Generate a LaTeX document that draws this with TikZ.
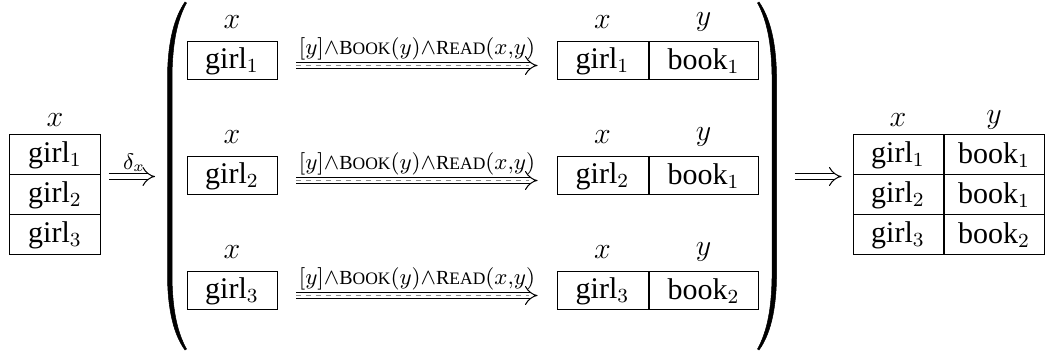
\documentclass[tikz,border=0pt]{standalone}
\usepackage{fontspec}
\setmainfont{Liberation Serif}
\usetikzlibrary{arrows.meta,calc}
\newcommand{\fsc}[2]{{\fontsize{8}{9}\selectfont #1}{\fontsize{7}{8}\selectfont #2}}
\newcommand{\rellbl}{$[y]{\wedge}$\fsc{B}{OOK}$(y){\wedge}$\fsc{R}{EAD}$(x{,}y)$}
\tikzset{
  cell/.style={draw, line width=0.4pt, inner sep=0pt, minimum height=16pt, font=\fontsize{12}{14}\selectfont},
  mcell/.style={cell, minimum height=15.2pt},
  hdr/.style={inner sep=0pt, font=\fontsize{12}{14}\selectfont},
  rlbl/.style={inner sep=0pt, font=\fontsize{9}{10}\selectfont},
  implies/.style={double, double distance=2.3pt, line width=0.4pt, -{Implies}},
  ghost/.style={line width=0.5pt, black!45, dash pattern=on 2pt off 2pt},
  paren/.style={fill=black, draw=black, line width=0.2pt}
}
\begin{document}
\begin{tikzpicture}[x=0.4pt,y=-0.4pt]
\useasboundingbox (0,0) rectangle (1045,351);
% left table
\node[hdr] (Lx) at (55,120) {$x$};
\node[cell, minimum width=36.2pt] (L1) at (55,155) {girl$_1$};
\node[cell, minimum width=36.2pt] (L2) at (55,195) {girl$_2$};
\node[cell, minimum width=36.2pt] (L3) at (55,235) {girl$_3$};
% parens
\coordinate (lparen) at (167.5,176);
\coordinate (rparen) at (776.5,176);
\fill[paren] (185,2) .. controls (174,18) and (168,42) .. (167.5,75) -- (167.5,278)
   .. controls (168,311) and (174,335) .. (185,350) -- (186.5,349)
   .. controls (177,332) and (172.5,309) .. (172,278) -- (172,75)
   .. controls (172.5,44) and (177,20) .. (186.5,3) -- cycle;
\fill[paren] (759,2) .. controls (770,18) and (776,42) .. (776.5,75) -- (776.5,278)
   .. controls (776,311) and (770,335) .. (759,350) -- (757.5,349)
   .. controls (767,332) and (771.5,309) .. (772,278) -- (772,75)
   .. controls (771.5,44) and (767,20) .. (757.5,3) -- cycle;
% left arrow
\draw[implies, shorten <=3.2pt, shorten >=5pt] ([yshift=-0.4pt]L1.south east) -- ([yshift=-0.4pt]L1.south east -| lparen) node[midway, above=1.6pt, inner sep=0pt, font=\fontsize{9}{10}\selectfont] (dlbl) {$\delta_x$};
% middle rows
\foreach \i/\yy/\b in {1/61/1, 2/176/1, 3/291/2} {
  \node[mcell, minimum width=36pt] (g\i) at (232,\yy) {girl$_\i$};
  \node[hdr] (gx\i) at (232,\yy-39) {$x$};
  \node[mcell, minimum width=36.4pt] (rg\i) at (602.5,\yy) {girl$_\i$};
  \node[mcell, minimum width=43.6pt, anchor=west] (rb\i) at (rg\i.east) {book$_\b$};
  \node[hdr] (rx\i) at (602.5,\yy-39) {$x$};
  \node[hdr] (ry\i) at (rb\i.center |- rx\i) {$y$};
  \draw[implies, shorten <=7.4pt, shorten >=7.6pt] ([yshift=-1.8pt]g\i.east) -- ([yshift=-1.8pt]rg\i.west) node[midway, above=2pt, rlbl] (lab\i) {\rellbl};
  \draw[ghost, shorten <=7.4pt, shorten >=11pt] ([yshift=-1.8pt]g\i.east) -- ([yshift=-1.8pt]rg\i.west);
}
% right table
\node[cell, minimum width=36pt] (R1) at (898,155) {girl$_1$};
\node[cell, minimum width=40pt, anchor=west] (S1) at (R1.east) {book$_1$};
\node[cell, minimum width=36pt] (R2) at (898,195) {girl$_2$};
\node[cell, minimum width=40pt, anchor=west] (S2) at (R2.east) {book$_1$};
\node[cell, minimum width=36pt] (R3) at (898,235) {girl$_3$};
\node[cell, minimum width=40pt, anchor=west] (S3) at (R3.east) {book$_2$};
\node[hdr] (Rx) at (898,120) {$x$};
\node[hdr] (Ry) at (S1.center |- Rx) {$y$};
% right arrow
\draw[implies, shorten <=7.2pt, shorten >=4.4pt] ([yshift=-0.4pt]R1.south west -| rparen) -- ([yshift=-0.4pt]R1.south west);
\end{tikzpicture}
\end{document}
